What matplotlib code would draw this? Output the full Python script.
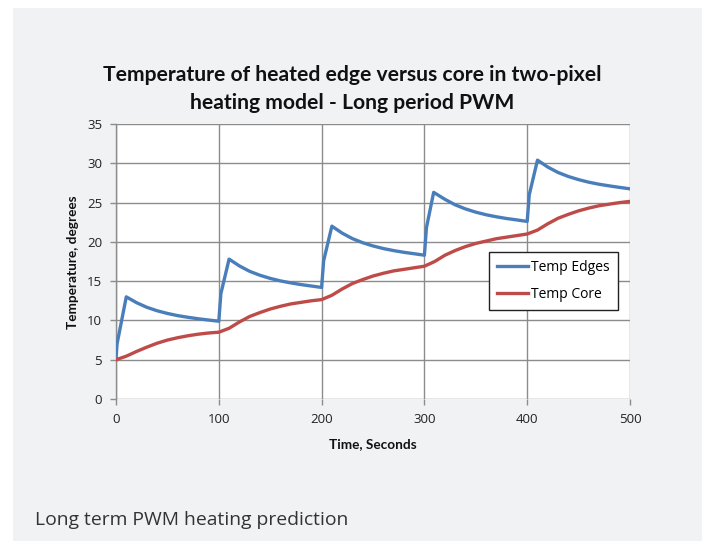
import matplotlib
matplotlib.use("Agg")
import matplotlib.pyplot as plt
from matplotlib.patches import Rectangle

# ---- data ----
edge_time = [0, 1, 10, 20, 30, 40, 50, 60, 70, 80, 90, 100,
             102, 110, 120, 130, 140, 150, 160, 170, 180, 190, 200,
             202, 210, 220, 230, 240, 250, 260, 270, 280, 290, 300,
             302, 309, 320, 330, 340, 350, 360, 370, 380, 390, 400,
             402, 410, 420, 430, 440, 450, 460, 470, 480, 490, 500]
edge_temp = [5.0, 7.0, 13.0, 12.26, 11.67, 11.23, 10.89, 10.61, 10.40, 10.21, 10.05, 9.9,
             13.4, 17.8, 16.94, 16.25, 15.75, 15.35, 15.03, 14.78, 14.56, 14.38, 14.2,
             17.6, 22.0, 21.11, 20.41, 19.89, 19.48, 19.15, 18.89, 18.67, 18.49, 18.3,
             21.8, 26.3, 25.41, 24.71, 24.19, 23.78, 23.45, 23.19, 22.97, 22.79, 22.6,
             26.0, 30.4, 29.52, 28.83, 28.32, 27.92, 27.59, 27.33, 27.12, 26.93, 26.75]

core_time = [0, 10, 20, 30, 40, 50, 60, 70, 80, 90, 100,
             110, 120, 130, 140, 150, 160, 170, 180, 190, 200,
             210, 220, 230, 240, 250, 260, 270, 280, 290, 300,
             310, 320, 330, 340, 350, 360, 370, 380, 390, 400,
             410, 420, 430, 440, 450, 460, 470, 480, 490, 500]
core_temp = [5.0, 5.45, 6.05, 6.6, 7.1, 7.5, 7.8, 8.05, 8.25, 8.4, 8.5,
             9.0, 9.8, 10.5, 11.0, 11.45, 11.8, 12.1, 12.3, 12.5, 12.65,
             13.2, 14.0, 14.7, 15.2, 15.65, 16.0, 16.3, 16.5, 16.7, 16.9,
             17.5, 18.3, 18.9, 19.4, 19.8, 20.1, 20.4, 20.6, 20.8, 21.0,
             21.5, 22.3, 23.0, 23.5, 23.95, 24.3, 24.6, 24.8, 25.0, 25.15]

series_labels = ["Temp Edges", "Temp Core"]
title = "Temperature of heated edge versus core in two-pixel\nheating model - Long period PWM"
xlabel = "Time, Seconds"
ylabel = "Temperature, degrees"
caption = "Long term PWM heating prediction"
xticks = [0, 100, 200, 300, 400, 500]
yticks = [0, 5, 10, 15, 20, 25, 30, 35]

W, H = 705, 541
fig = plt.figure(figsize=(W / 100, H / 100), dpi=100)
fig.patch.set_facecolor("white")
panel_color = "#f1f2f4"
fig.patches.append(Rectangle((13 / W, 0), (702 - 13) / W, (H - 8) / H,
                             transform=fig.transFigure, facecolor=panel_color,
                             edgecolor="none", zorder=-10))

ax = fig.add_axes([116 / W, 1 - 399 / H, (630 - 116) / W, (399 - 124) / H])
ax.set_facecolor("white")

grid_c = "#8c8c8c"
ax.plot(edge_time, edge_temp, color="#4a7ebb", lw=2.4, label=series_labels[0],
        solid_joinstyle="round", zorder=3)
ax.plot(core_time, core_temp, color="#be4b48", lw=2.4, label=series_labels[1],
        solid_joinstyle="round", zorder=3)

ax.set_xlim(0, 500)
ax.set_ylim(0, 35)
ax.set_xticks(xticks)
ax.set_yticks(yticks)
ax.grid(True, color=grid_c, lw=1.0)
ax.set_axisbelow(True)
for s in ["top", "right", "bottom"]:
    ax.spines[s].set_visible(False)
ax.spines["left"].set_color(grid_c)
ax.spines["left"].set_linewidth(1.0)
ax.tick_params(axis="both", colors=grid_c, length=4, width=1.0,
               labelcolor="#222222", labelsize=9.5)
ax.tick_params(axis="y", pad=6)
ax.tick_params(axis="x", pad=6)
for lab in ax.get_xticklabels() + ax.get_yticklabels():
    lab.set_family("Open Sans")

fig.text(352 / W, 1 - 89 / H, title, ha="center", va="center",
         fontsize=15.2, fontweight="bold", family="Lato", linespacing=1.45,
         color="#111111")
fig.text(373 / W, 1 - 444 / H, xlabel, ha="center", va="center",
         fontsize=9.8, fontweight="bold", family="Lato", color="#111111")
fig.text(73 / W, 1 - 262 / H, ylabel, ha="center", va="center", rotation=90,
         fontsize=9.8, fontweight="bold", family="Lato", color="#111111")
fig.text(35 / W, 1 - 520 / H, caption, ha="left", va="center",
         fontsize=13.9, family="Open Sans", color="#333333")

leg = ax.legend(loc="upper left", bbox_to_anchor=((489 - 116) / (630 - 116), (399 - 252) / (399 - 124)),
                frameon=True, fancybox=False, edgecolor="#222222", framealpha=1,
                prop={"family": "Open Sans", "size": 10}, handlelength=2.2,
                handletextpad=0.2, borderpad=0.6, labelspacing=0.85,
                borderaxespad=0)
leg.get_frame().set_linewidth(1.0)

fig.savefig("out.png", dpi=100)
